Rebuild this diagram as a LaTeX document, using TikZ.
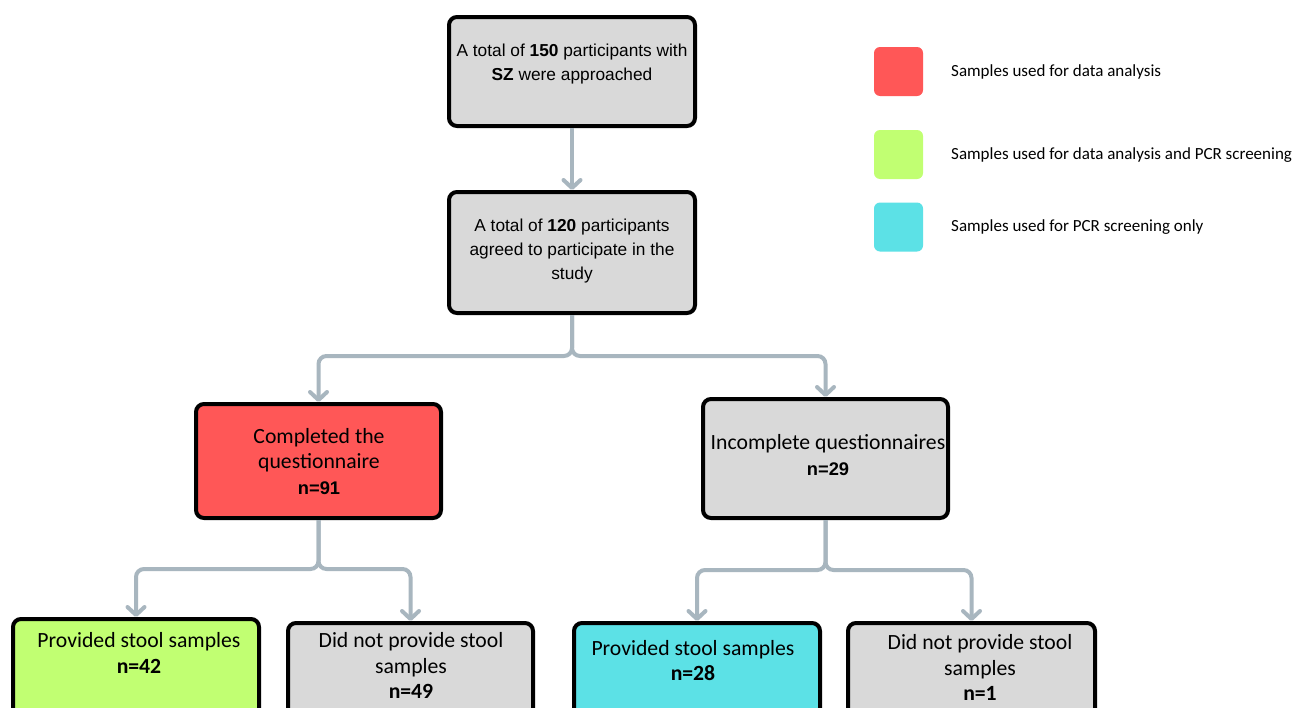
\documentclass[tikz,border=0pt]{standalone}
\usepackage{fontspec}
\setmainfont{Carlito}
\newfontfamily\arial{Liberation Sans}
\usetikzlibrary{arrows.meta}
\definecolor{boxgray}{HTML}{D9D9D9}
\definecolor{boxred}{HTML}{FF5757}
\definecolor{boxgreen}{HTML}{C1FF72}
\definecolor{boxcyan}{HTML}{5CE1E6}
\definecolor{conngray}{HTML}{A8B6BF}
\tikzset{
  box/.style={draw=black, line width=4pt, rounded corners=8pt, inner sep=0pt},
  conn/.style={draw=conngray, line width=4pt, rounded corners=8pt,
    -{Straight Barb[length=8pt,width=17pt,line cap=round,line join=round]}},
  topfont/.style={font=\arial\fontsize{17.3}{24}\selectfont, align=center, inner sep=0pt},
  lowfont/.style={font=\fontsize{21.7}{25.5}\selectfont, align=center, inner sep=0pt},
  legbox/.style={rounded corners=6pt, minimum width=49pt, minimum height=49pt, inner sep=0pt},
  legtext/.style={font=\fontsize{17}{20}\selectfont, anchor=west, inner sep=0pt},
}
\newcommand{\arialn}[1]{{\arial\fontsize{18.3}{24}\selectfont\bfseries #1}}
\begin{document}
\begin{tikzpicture}[x=1pt,y=-1pt]
\useasboundingbox (0,0) rectangle (1306,707);
\fill[white] (0,0) rectangle (1306,707);
% boxes
\node[box, fill=boxgray, minimum width=246pt, minimum height=109pt] (top) at (572,71.5) {};
\node[box, fill=boxgray, minimum width=246pt, minimum height=121pt] (b2) at (572,252.5) {};
\node[box, fill=boxred, minimum width=245pt, minimum height=114pt] (red) at (318.5,461) {};
\node[box, fill=boxgray, minimum width=245pt, minimum height=119pt] (inc) at (825.5,458.5) {};
\node[box, fill=boxgreen, minimum width=246pt, minimum height=160pt] (green) at (136,699) {};
\node[box, fill=boxgray, minimum width=245pt, minimum height=160pt] (dnpa) at (410.5,703) {};
\node[box, fill=boxcyan, minimum width=246pt, minimum height=160pt] (cyan) at (697,703) {};
\node[box, fill=boxgray, minimum width=247pt, minimum height=160pt] (dnpb) at (971.5,703) {};
% texts
\node[topfont] (ttop) at (572,64) {A total of \textbf{150} participants with\\\textbf{SZ} were approached};
\node[topfont] (tb2) at (572,251) {A total of \textbf{120} participants\\agreed to participate in the\\study};
\node[lowfont] (tred) at (319,461.5) {Completed the\\questionnaire\\\arialn{n=91}};
\node[lowfont] (tinc) at (828,455) {Incomplete questionnaires\\\arialn{n=29}};
\node[lowfont] (tgreen) at (139,653) {Provided stool samples\\\textbf{n=42}};
\node[lowfont] (tdnpa) at (411,665.5) {Did not provide stool\\samples\\\textbf{n=49}};
\node[lowfont] (tcyan) at (693,660.5) {Provided stool samples\\\textbf{n=28}};
\node[lowfont] (tdnpb) at (980,667.5) {Did not provide stool\\samples\\\textbf{n=1}};
% connectors
\coordinate (j1) at (572,356);
\coordinate (j2) at (318.5,569);
\coordinate (j3) at (825.5,570);
\draw[conn] (top.south) -- (b2.north);
\draw[conn] (b2.south) -- (j1) -| (red.north);
\draw[conn] (b2.south) -- (j1) -| (inc.north);
\draw[conn] (red.south) -- (j2) -| (green.north);
\draw[conn] (red.south) -- (j2) -| (dnpa.north);
\draw[conn] (inc.south) -- (j3) -| (cyan.north);
\draw[conn] (inc.south) -- (j3) -| (dnpb.north);
% legend
\node[legbox, fill=boxred] (lred) at (898.5,71.5) {};
\node[legbox, fill=boxgreen] (lgreen) at (898.5,154.5) {};
\node[legbox, fill=boxcyan] (lcyan) at (898.5,227) {};
\node[legtext] (tlred) at (951,72) {Samples used for data analysis};
\node[legtext] (tlgreen) at (951,155) {Samples used for data analysis and PCR screening};
\node[legtext] (tlcyan) at (951,227) {Samples used for PCR screening only};
\end{tikzpicture}
\end{document}
